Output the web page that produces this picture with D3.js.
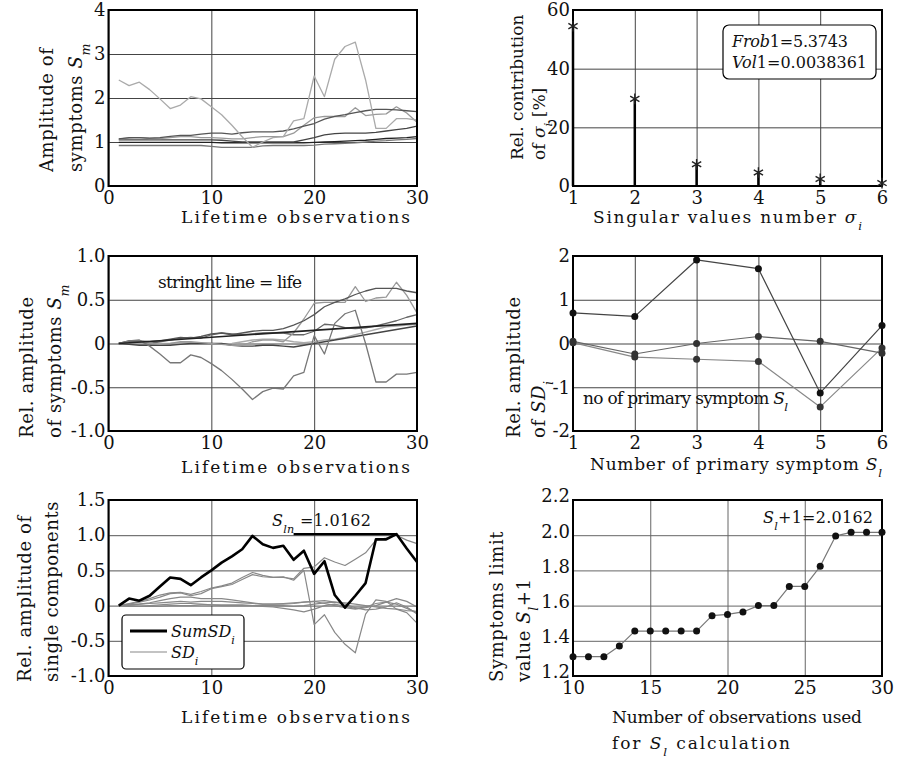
<!DOCTYPE html>
<html>
<head>
<meta charset="utf-8">
<script src="https://cdn.jsdelivr.net/npm/d3@7"></script>
<style>
body { margin: 0; background: #fff; }
svg { display: block; }
text { font-family: "DejaVu Serif", serif; fill: #111; }
</style>
</head>
<body>
<svg width="902" height="759"></svg>
<script>
// ---- data ----
var lifetime = [1,2,3,4,5,6,7,8,9,10,11,12,13,14,15,16,17,18,19,20,21,22,23,24,25,26,27,28,29,30];

// panel 1: amplitude of symptoms Sm
var amp1 = [2.41,2.28,2.36,2.19,1.98,1.76,1.84,2.03,1.98,1.80,1.62,1.38,1.12,0.88,1.00,1.10,1.12,1.48,1.53,2.50,2.03,2.88,3.17,3.27,2.41,1.31,1.31,1.53,1.53,1.50];
var amp2 = [1.07,1.10,1.10,1.09,1.10,1.13,1.15,1.15,1.18,1.20,1.20,1.18,1.21,1.23,1.23,1.23,1.25,1.30,1.36,1.42,1.52,1.58,1.62,1.67,1.71,1.74,1.74,1.73,1.71,1.69];
var amp3 = [1.07,1.09,1.10,1.08,1.08,1.10,1.12,1.12,1.10,1.10,1.09,1.07,1.07,1.10,1.12,1.12,1.12,1.20,1.38,1.55,1.58,1.58,1.58,1.78,1.60,1.63,1.64,1.80,1.66,1.45];
var amp4 = [1.05,1.05,1.05,1.05,1.05,1.05,1.05,1.05,1.05,1.05,1.04,1.02,1.00,1.00,1.00,1.00,1.00,1.00,1.05,1.10,1.16,1.19,1.20,1.20,1.20,1.22,1.25,1.28,1.31,1.36];
var amp5 = [0.99,0.99,0.99,0.99,0.99,0.99,0.99,0.99,0.99,0.99,0.98,0.98,0.98,0.98,0.98,0.98,0.98,0.98,0.98,0.99,1.00,1.01,1.02,1.03,1.04,1.06,1.08,1.09,1.10,1.12];
var amp6 = [0.92,0.92,0.92,0.92,0.92,0.92,0.92,0.92,0.92,0.90,0.88,0.88,0.88,0.88,0.91,0.92,0.92,0.92,0.92,0.93,0.95,0.96,0.97,0.98,1.00,1.02,1.03,1.05,1.06,1.08];

// panel 3: relative amplitude of symptoms Sm
var rel1 = [0,0.03,0.04,-0.03,-0.12,-0.22,-0.22,-0.13,-0.16,-0.23,-0.31,-0.41,-0.52,-0.64,-0.55,-0.51,-0.52,-0.37,-0.33,0.09,-0.12,0.23,0.34,0.38,0.0,-0.44,-0.44,-0.35,-0.35,-0.33];
var rel2 = [0,0.03,0.03,0.02,0.03,0.05,0.07,0.06,0.08,0.11,0.12,0.10,0.12,0.14,0.15,0.15,0.17,0.21,0.26,0.33,0.42,0.47,0.51,0.56,0.60,0.63,0.63,0.63,0.60,0.58];
var rel3 = [0,0.01,0.02,0.0,-0.01,0.0,0.02,0.02,0.01,0.0,-0.01,-0.02,-0.02,0.02,0.04,0.04,0.02,0.12,0.28,0.46,0.47,0.47,0.47,0.65,0.48,0.52,0.53,0.70,0.55,0.35];
var rel4 = [0,0.02,0.02,0.0,0.02,0.04,0.06,0.07,0.06,0.10,0.12,0.11,0.10,0.11,0.12,0.12,0.12,0.10,0.10,0.14,0.22,0.21,0.18,0.17,0.18,0.20,0.23,0.26,0.30,0.33];
var rel5 = [0,-0.01,-0.02,-0.02,-0.02,-0.02,-0.01,0,0,0,0,-0.02,-0.03,-0.03,-0.02,-0.02,-0.03,-0.04,-0.02,0.0,0.02,0.04,0.06,0.08,0.10,0.12,0.14,0.16,0.18,0.20];
var rel6 = [0,0.01,0.0,-0.01,0.0,0.0,0.01,0.01,0.0,-0.01,-0.01,0.0,0.02,0.04,0.05,0.05,0.04,0.02,0.01,0.02,0.04,0.05,0.07,0.10,0.13,0.16,0.19,0.20,0.21,0.22];
var lifeX = [1,30], lifeY = [0,0.23];

// panel 2: singular values
var sigmaNo = [1,2,3,4,5,6];
var sigmaPct = [54.5,29.7,7.4,4.6,2.4,1.0];

// panel 4: SD_i amplitudes over primary symptoms
var symptomNo = [1,2,3,4,5,6];
var sdA = [0.70,0.62,1.91,1.71,-1.13,0.41];
var sdB = [0.05,-0.24,0.0,0.16,0.05,-0.22];
var sdC = [0.02,-0.31,-0.36,-0.41,-1.45,-0.10];

// panel 5: single components
var sumSD = [0,0.10,0.07,0.14,0.27,0.40,0.38,0.29,0.40,0.50,0.61,0.70,0.80,0.99,0.87,0.82,0.85,0.65,0.78,0.45,0.63,0.15,-0.03,0.14,0.32,0.94,0.94,1.0162,0.81,0.62];
var sd1 = [0,0.03,0.06,0.10,0.15,0.18,0.19,0.16,0.20,0.25,0.28,0.32,0.40,0.47,0.43,0.40,0.40,0.38,0.53,0.55,0.68,0.62,0.57,0.66,0.75,0.93,0.96,1.00,0.93,0.88];
var sd2 = [0,0.02,0.05,0.08,0.12,0.17,0.18,0.14,0.17,0.24,0.27,0.30,0.37,0.44,0.41,0.40,0.41,0.36,0.50,-0.27,-0.13,-0.38,-0.55,-0.67,-0.12,0.08,0.06,-0.05,-0.10,-0.25];
var sd3 = [0,0.01,0.02,0.03,0.04,0.05,0.06,0.05,0.06,0.06,0.06,0.05,0.04,0.03,0.02,0.02,0.03,0.04,0.05,0.06,0.07,0.05,0.02,-0.03,-0.06,-0.05,-0.02,0.04,-0.02,-0.12];
var sd4 = [0,-0.01,-0.01,0,0.01,0.02,0.03,0.03,0.02,0.01,0,0,0,0,-0.01,-0.02,-0.04,-0.06,-0.09,-0.05,0.0,0.02,-0.01,-0.04,-0.02,0.03,0.05,0.02,-0.04,-0.10];
var sd5 = [0,0,-0.01,-0.01,-0.01,0,0,0,0.01,0.01,0.01,0.01,0.01,0,0,0,0,-0.01,0,0.02,0.04,0.05,0.04,0.02,0.0,-0.02,-0.04,-0.05,-0.07,-0.08];
var sd6 = [0,0.01,0.02,0.04,0.07,0.10,0.12,0.12,0.10,0.10,0.10,0.08,0.06,0.04,0.02,0.02,0.02,0.03,0.05,0.06,0.03,0.0,-0.03,-0.05,-0.03,0.0,0.05,0.10,0.06,-0.02];
var sln = 1.0162, slnFrom = 18, slnTo = 28;

// panel 6: symptoms limit value
var obsUsed = [10,11,12,13,14,15,16,17,18,19,20,21,22,23,24,25,26,27,28,29,30];
var limitVal = [1.31,1.31,1.31,1.37,1.455,1.455,1.455,1.455,1.455,1.543,1.55,1.564,1.60,1.60,1.709,1.709,1.823,1.996,2.0162,2.0162,2.0162];

// tick labels
var lifeTicks = [0,10,20,30];
var p1YTicks = [0,1,2,3,4], p1YLabels = ["0","1","2","3","4"];
var p2YTicks = [0,20,40,60], p2YLabels = ["0","20","40","60"];
var p3YTicks = [-1,-0.5,0,0.5,1], p3YLabels = ["-1.0","-0.5","0","0.5","1.0"];
var p4YTicks = [-2,-1,0,1,2], p4YLabels = ["-2","-1","0","1","2"];
var p5YTicks = [-1,-0.5,0,0.5,1,1.5], p5YLabels = ["-1.0","-0.5","0","0.5","1.0","1.5"];
var p6XTicks = [10,15,20,25,30];
var p6YTicks = [1.2,1.4,1.6,1.8,2.0,2.2], p6YLabels = ["1.2","1.4","1.6","1.8","2.0","2.2"];

var svg = d3.select("svg");

// writes a label made of parts: {t, i (italic), sub}
function rich(sel, parts, len) {
  parts.forEach(function(p) {
    var ts = sel.append("tspan").text(p.t);
    if (p.i) ts.attr("font-style", "italic");
    if (p.sub) ts.attr("baseline-shift", "sub").attr("font-size", "70%");
  });
  if (len) sel.attr("textLength", len).attr("lengthAdjust", "spacing");
  return sel;
}

function panel(c) {
  var x = d3.scaleLinear().domain(c.xd).range([c.left, c.right]);
  var y = d3.scaleLinear().domain(c.yd).range([c.bottom, c.top]);
  var g = svg.append("g");
  var h = c.bottom - c.top, w = c.right - c.left;

  var xa = g.append("g").attr("transform", "translate(0," + c.bottom + ")")
    .call(d3.axisBottom(x).tickValues(c.xt).tickSize(-h).tickPadding(5)
      .tickFormat(function(d, i) { return c.xl ? c.xl[i] : d; }));
  var ya = g.append("g").attr("transform", "translate(" + c.left + ",0)")
    .call(d3.axisLeft(y).tickValues(c.yt).tickSize(-w).tickPadding(3)
      .tickFormat(function(d, i) { return c.yl[i]; }));
  [xa, ya].forEach(function(a) {
    a.select(".domain").remove();
    a.selectAll("line").attr("stroke", c.grid || "#444").attr("stroke-width", 1);
    a.selectAll("text").attr("font-family", "DejaVu Serif").attr("font-size", 18).attr("fill", "#111");
  });
  if (c.yShift) ya.selectAll("text").attr("dy", c.yShift);

  var data = g.append("g");
  var frame = g.append("g");
  frame.append("rect").attr("x", c.left).attr("y", c.top).attr("width", w).attr("height", h)
    .attr("fill", "none").attr("stroke", "#000").attr("stroke-width", 2);
  return {x: x, y: y, g: data, top: frame};
}

function drawLine(p, xs, ys, color, width) {
  var line = d3.line().x(function(d, i) { return p.x(xs[i]); }).y(function(d) { return p.y(d); });
  p.g.append("path").datum(ys).attr("d", line).attr("fill", "none")
    .attr("stroke", color).attr("stroke-width", width).attr("stroke-linejoin", "round");
}

// two rotated lines, both reading upward from yBottom
function yTitle(x1, x2, yBottom, l1, l2, size) {
  [[x1, l1], [x2, l2]].forEach(function(l) {
    rich(svg.append("text").attr("transform", "translate(" + l[0] + "," + yBottom + ") rotate(-90)")
      .attr("font-size", size || 18).attr("letter-spacing", size ? 0 : 0.6), l[1]);
  });
}

function xTitle(x0, y, parts, len) {
  rich(svg.append("text").attr("x", x0).attr("y", y).attr("font-size", 17), parts, len);
}

// ---------- panel 1 ----------
var p1 = panel({xd: [0,30], yd: [0,4], left: 108.5, right: 417, top: 10, bottom: 186,
  xt: lifeTicks, yt: p1YTicks, yl: p1YLabels});
[[amp6,"#777"],[amp5,"#222"],[amp4,"#444"],[amp3,"#999"],[amp2,"#555"],[amp1,"#aaa"]].forEach(function(s) {
  drawLine(p1, lifetime, s[0], s[1], 1.3);
});
xTitle(181, 223, [{t: "Lifetime observations"}], 229);
yTitle(53, 82, 172, [{t: "Amplitude of"}], [{t: "symptoms "}, {t: "S", i: true}, {t: "m", i: true, sub: true}]);

// ---------- panel 2 ----------
var p2 = panel({xd: [1,6], yd: [0,60], left: 573, right: 882, top: 10, bottom: 186,
  xt: sigmaNo, yt: p2YTicks, yl: p2YLabels});
p2.g.selectAll("line.stem").data(sigmaPct).enter().append("line")
  .attr("x1", function(d, i) { return p2.x(sigmaNo[i]); })
  .attr("x2", function(d, i) { return p2.x(sigmaNo[i]); })
  .attr("y1", p2.y(0)).attr("y2", function(d) { return p2.y(d); })
  .attr("stroke", "#000").attr("stroke-width", 2.5);
p2.top.selectAll("path.star").data(sigmaPct).enter().append("path")
  .attr("d", d3.symbol(d3.symbolAsterisk, 80))
  .attr("transform", function(d, i) { return "translate(" + p2.x(sigmaNo[i]) + "," + p2.y(d) + ")"; })
  .attr("stroke", "#222").attr("stroke-width", 1.4).attr("fill", "none");
p2.top.append("rect").attr("x", 723).attr("y", 25).attr("width", 153).attr("height", 54)
  .attr("rx", 6).attr("fill", "#fff").attr("stroke", "#000").attr("stroke-width", 1.2);
rich(p2.top.append("text").attr("x", 732).attr("y", 47).attr("font-size", 16),
  [{t: "Frob", i: true}, {t: "1=5.3743"}], 116);
rich(p2.top.append("text").attr("x", 732).attr("y", 68).attr("font-size", 16),
  [{t: "Vol", i: true}, {t: "1=0.0038361"}], 135);
xTitle(593, 223, [{t: "Singular values number "}, {t: "σ", i: true}, {t: "i", i: true, sub: true}], 269);
yTitle(523, 545, 160, [{t: "Rel. contribution"}], [{t: "of "}, {t: "σ", i: true}, {t: "i", i: true, sub: true}, {t: " [%]"}], 17);

// ---------- panel 3 ----------
var p3 = panel({xd: [0,30], yd: [-1,1], left: 108.5, right: 417, top: 256, bottom: 431,
  xt: lifeTicks, yt: p3YTicks, yl: p3YLabels});
[[rel6,"#aaa"],[rel5,"#444"],[rel4,"#666"],[rel3,"#999"],[rel2,"#555"],[rel1,"#777"]].forEach(function(s) {
  drawLine(p3, lifetime, s[0], s[1], 1.3);
});
drawLine(p3, lifeX, lifeY, "#222", 1.6);
p3.top.append("text").attr("x", 158).attr("y", 288).attr("font-family", "Liberation Serif")
  .attr("font-size", 17).attr("textLength", 144).attr("lengthAdjust", "spacing")
  .text("stringht line = life");
xTitle(181, 473, [{t: "Lifetime observations"}], 229);
yTitle(33, 61, 438, [{t: "Rel. amplitude"}], [{t: "of symptoms "}, {t: "S", i: true}, {t: "m", i: true, sub: true}]);

// ---------- panel 4 ----------
var p4 = panel({xd: [1,6], yd: [-2,2], left: 573, right: 882, top: 256, bottom: 431,
  xt: symptomNo, yt: p4YTicks, yl: p4YLabels});
[[sdC,"#888"],[sdB,"#666"],[sdA,"#444"]].forEach(function(s) {
  drawLine(p4, symptomNo, s[0], s[1], 1.2);
  p4.top.selectAll(null).data(s[0]).enter().append("circle")
    .attr("cx", function(d, i) { return p4.x(symptomNo[i]); })
    .attr("cy", function(d) { return p4.y(d); })
    .attr("r", 3.5).attr("fill", s[1] === "#444" ? "#111" : "#333");
});
rich(p4.top.append("text").attr("x", 583).attr("y", 404).attr("font-family", "Liberation Serif").attr("font-size", 17),
  [{t: "no of primary symptom "}, {t: "S", i: true}, {t: "l", i: true, sub: true}], 205);
xTitle(590, 470, [{t: "Number of primary symptom "}, {t: "S", i: true}, {t: "l", i: true, sub: true}], 292);
yTitle(520, 545, 438, [{t: "Rel. amplitude"}], [{t: "of "}, {t: "SD", i: true}, {t: "i", i: true, sub: true}]);

// ---------- panel 5 ----------
var p5 = panel({xd: [0,30], yd: [-1,1.5], left: 108.5, right: 417, top: 500, bottom: 676,
  xt: lifeTicks, yt: p5YTicks, yl: p5YLabels, grid: "#555"});
[sd6, sd5, sd4, sd3, sd2, sd1].forEach(function(s) { drawLine(p5, lifetime, s, "#888", 1.2); });
drawLine(p5, lifetime, sumSD, "#000", 2.6);
p5.g.append("line").attr("x1", p5.x(slnFrom)).attr("x2", p5.x(slnTo))
  .attr("y1", p5.y(sln)).attr("y2", p5.y(sln)).attr("stroke", "#000").attr("stroke-width", 2.2);
rich(p5.top.append("text").attr("x", 272).attr("y", 526).attr("font-size", 16),
  [{t: "S", i: true}, {t: "ln", i: true, sub: true}, {t: " =1.0162"}], 99);
var lg = p5.top.append("g");
lg.append("rect").attr("x", 122).attr("y", 615).attr("width", 122).attr("height", 54).attr("rx", 4)
  .attr("fill", "#fff").attr("stroke", "#000").attr("stroke-width", 1.2);
lg.append("line").attr("x1", 130).attr("x2", 167).attr("y1", 631).attr("y2", 631).attr("stroke", "#000").attr("stroke-width", 3);
lg.append("line").attr("x1", 130).attr("x2", 167).attr("y1", 652).attr("y2", 652).attr("stroke", "#888").attr("stroke-width", 1.2);
rich(lg.append("text").attr("x", 171).attr("y", 637).attr("font-size", 16), [{t: "SumSD", i: true}, {t: "i", i: true, sub: true}]);
rich(lg.append("text").attr("x", 171).attr("y", 658).attr("font-size", 16), [{t: "SD", i: true}, {t: "i", i: true, sub: true}]);
xTitle(181, 723, [{t: "Lifetime observations"}], 229);
yTitle(31, 58, 682, [{t: "Rel. amplitude of"}], [{t: "single components"}]);

// ---------- panel 6 ----------
var p6 = panel({xd: [10,30], yd: [1.2,2.2], left: 573, right: 882, top: 500, bottom: 676,
  xt: p6XTicks, yt: p6YTicks, yl: p6YLabels, grid: "#666", yShift: "0.1em"});
drawLine(p6, obsUsed, limitVal, "#777", 1.2);
p6.top.selectAll(null).data(limitVal).enter().append("circle")
  .attr("cx", function(d, i) { return p6.x(obsUsed[i]); })
  .attr("cy", function(d) { return p6.y(d); })
  .attr("r", 3.5).attr("fill", "#111");
rich(p6.top.append("text").attr("x", 763).attr("y", 523).attr("font-size", 16),
  [{t: "S", i: true}, {t: "l", i: true, sub: true}, {t: "+1=2.0162"}], 110);
xTitle(612, 723, [{t: "Number of observations used"}], 250);
xTitle(612, 749, [{t: "for  "}, {t: "S", i: true}, {t: "l", i: true, sub: true}, {t: "  calculation"}], 178);
yTitle(503, 530, 682, [{t: "Symptoms limit"}], [{t: "value "}, {t: "S", i: true}, {t: "l", i: true, sub: true}, {t: "+1"}]);
</script>
</body>
</html>
